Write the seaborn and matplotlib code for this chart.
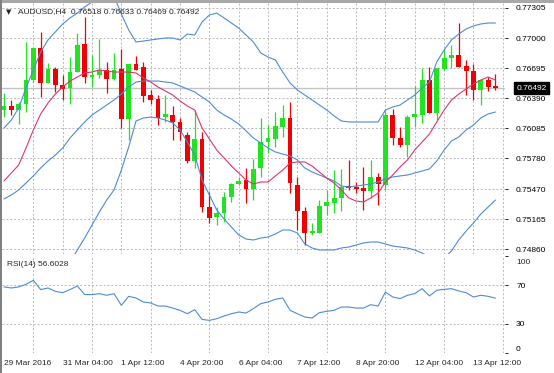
import numpy as np
import pandas as pd
import matplotlib
matplotlib.use("Agg")
import matplotlib.pyplot as plt
from matplotlib.patches import Rectangle
import seaborn as sns

# AUDUSD H4, 68 bars from 29 Mar 20:00
open_ = [0.76271, 0.76312, 0.76271, 0.76332, 0.76575, 0.76900, 0.76545, 0.76687, 0.76525, 0.76494,
         0.76656, 0.76940, 0.76606, 0.76626, 0.76677, 0.76586, 0.76687, 0.76180, 0.76738, 0.76707,
         0.76423, 0.76383, 0.76200, 0.76221, 0.76150, 0.76018, 0.75755, 0.75978, 0.75289, 0.75187,
         0.75228, 0.75390, 0.75522, 0.75562, 0.75471, 0.75684, 0.75947, 0.75978, 0.76099, 0.76190,
         0.75511, 0.75248, 0.75025, 0.75025, 0.75299, 0.75329, 0.75380, 0.75501, 0.75491, 0.75481,
         0.75451, 0.75593, 0.75511, 0.76221, 0.75988, 0.75917, 0.76200, 0.76221, 0.76575, 0.76241,
         0.76687, 0.76798, 0.76829, 0.76717, 0.76667, 0.76474, 0.76575, 0.76518]
high = [0.76444, 0.76373, 0.76352, 0.76960, 0.76900, 0.77062, 0.76748, 0.76707, 0.76626, 0.76808,
        0.77052, 0.77214, 0.76829, 0.76991, 0.76758, 0.76849, 0.76890, 0.76738, 0.76819, 0.76758,
        0.76474, 0.76423, 0.76423, 0.76312, 0.76190, 0.76048, 0.76271, 0.76048, 0.75441, 0.75289,
        0.75441, 0.75532, 0.75593, 0.75684, 0.75775, 0.76190, 0.76119, 0.76251, 0.76322, 0.76352,
        0.75593, 0.75289, 0.75126, 0.75359, 0.75461, 0.75663, 0.75674, 0.75765, 0.75542, 0.75694,
        0.75765, 0.75633, 0.76271, 0.76281, 0.76099, 0.76221, 0.76515, 0.76697, 0.76707, 0.76697,
        0.76890, 0.76930, 0.77153, 0.76778, 0.76738, 0.76586, 0.76606, 0.76633]
low = [0.76200, 0.76221, 0.76130, 0.76251, 0.76555, 0.76403, 0.76545, 0.76454, 0.76373, 0.76332,
       0.76656, 0.76545, 0.76504, 0.76596, 0.76444, 0.76575, 0.76089, 0.75967, 0.76677, 0.76352,
       0.76332, 0.76119, 0.76150, 0.75967, 0.75967, 0.75734, 0.75684, 0.75238, 0.75126, 0.75106,
       0.75137, 0.75339, 0.75511, 0.75329, 0.75359, 0.75593, 0.75836, 0.75896, 0.75998, 0.75430,
       0.75055, 0.74903, 0.75005, 0.75025, 0.75207, 0.75228, 0.75248, 0.75461, 0.75430, 0.75258,
       0.75380, 0.75309, 0.75461, 0.75917, 0.75896, 0.75795, 0.76099, 0.76140, 0.76241, 0.76170,
       0.76677, 0.76697, 0.76707, 0.76423, 0.76373, 0.76322, 0.76464, 0.76469]
close = [0.76312, 0.76271, 0.76332, 0.76575, 0.76900, 0.76545, 0.76687, 0.76525, 0.76484, 0.76656,
         0.76930, 0.76606, 0.76626, 0.76677, 0.76586, 0.76677, 0.76180, 0.76738, 0.76677, 0.76413,
         0.76373, 0.76190, 0.76231, 0.76150, 0.76048, 0.75755, 0.75978, 0.75289, 0.75177, 0.75228,
         0.75390, 0.75522, 0.75552, 0.75471, 0.75674, 0.75947, 0.75988, 0.76109, 0.76190, 0.75532,
         0.75248, 0.75025, 0.75045, 0.75299, 0.75339, 0.75380, 0.75491, 0.75481, 0.75471, 0.75451,
         0.75593, 0.75522, 0.76221, 0.75988, 0.75917, 0.76200, 0.76231, 0.76575, 0.76241, 0.76697,
         0.76798, 0.76829, 0.76707, 0.76667, 0.76474, 0.76575, 0.76504, 0.76492]

# Bollinger bands (blue) and moving average (pink)
bb_upper = [0.76089, 0.76170, 0.76292, 0.76494, 0.76677, 0.76859, 0.76981, 0.77062, 0.77143, 0.77204,
            0.77254, 0.77315, 0.77366, 0.77427, 0.77467, 0.77427, 0.77244, 0.77082, 0.76960, 0.76970,
            0.76981, 0.76991, 0.77001, 0.77001, 0.76981, 0.77041, 0.77031, 0.77163, 0.77234, 0.77254,
            0.77204, 0.77153, 0.77102, 0.77031, 0.76960, 0.76849, 0.76808, 0.76778, 0.76656, 0.76545,
            0.76474, 0.76423, 0.76373, 0.76322, 0.76271, 0.76211, 0.76160, 0.76150, 0.76150, 0.76150,
            0.76150, 0.76150, 0.76271, 0.76302, 0.76322, 0.76373, 0.76423, 0.76494, 0.76555, 0.76758,
            0.76879, 0.76981, 0.77041, 0.77092, 0.77123, 0.77143, 0.77153, 0.77153]
bb_middle = [0.75370, 0.75410, 0.75461, 0.75532, 0.75603, 0.75684, 0.75755, 0.75815, 0.75886, 0.75988,
             0.76069, 0.76150, 0.76221, 0.76271, 0.76322, 0.76373, 0.76433, 0.76504, 0.76555, 0.76565,
             0.76565, 0.76565, 0.76555, 0.76545, 0.76515, 0.76484, 0.76454, 0.76403, 0.76352, 0.76271,
             0.76221, 0.76180, 0.76129, 0.76059, 0.75988, 0.75937, 0.75886, 0.75846, 0.75825, 0.75805,
             0.75765, 0.75684, 0.75643, 0.75613, 0.75582, 0.75552, 0.75501, 0.75491, 0.75501, 0.75511,
             0.75522, 0.75542, 0.75572, 0.75593, 0.75603, 0.75613, 0.75633, 0.75653, 0.75674, 0.75755,
             0.75866, 0.75957, 0.75998, 0.76069, 0.76119, 0.76190, 0.76231, 0.76251]
bb_lower = [0.74650, 0.74650, 0.74630, 0.74569, 0.74528, 0.74508, 0.74528, 0.74569, 0.74630, 0.74731,
            0.74853, 0.74974, 0.75106, 0.75238, 0.75359, 0.75461, 0.75663, 0.75896, 0.76160, 0.76190,
            0.76200, 0.76190, 0.76170, 0.76140, 0.76069, 0.75947, 0.75815, 0.75562, 0.75410, 0.75258,
            0.75167, 0.75086, 0.75005, 0.74964, 0.74954, 0.74974, 0.74985, 0.75015, 0.75055, 0.75055,
            0.75025, 0.74914, 0.74873, 0.74853, 0.74853, 0.74853, 0.74873, 0.74883, 0.74903, 0.74924,
            0.74934, 0.74934, 0.74914, 0.74893, 0.74883, 0.74873, 0.74853, 0.74822, 0.74782, 0.74731,
            0.74772, 0.74843, 0.74954, 0.75045, 0.75126, 0.75217, 0.75288, 0.75359]
ma = [0.75552, 0.75633, 0.75714, 0.75886, 0.76069, 0.76231, 0.76342, 0.76433, 0.76504, 0.76565,
      0.76606, 0.76646, 0.76656, 0.76677, 0.76667, 0.76656, 0.76656, 0.76656, 0.76646, 0.76596,
      0.76555, 0.76504, 0.76464, 0.76423, 0.76363, 0.76312, 0.76271, 0.76089, 0.75978, 0.75866,
      0.75785, 0.75704, 0.75633, 0.75562, 0.75522, 0.75542, 0.75542, 0.75603, 0.75663, 0.75734,
      0.75745, 0.75745, 0.75704, 0.75643, 0.75582, 0.75532, 0.75461, 0.75380, 0.75349, 0.75339,
      0.75380, 0.75430, 0.75542, 0.75613, 0.75694, 0.75765, 0.75866, 0.75947, 0.76028, 0.76150,
      0.76271, 0.76373, 0.76433, 0.76484, 0.76535, 0.76575, 0.76606, 0.76575]

rsi = [68.3, 67.2, 68.3, 71.0, 75.2, 65.5, 67.2, 63.7, 62.3, 65.5,
       69.3, 60.3, 60.3, 61.3, 59.6, 61.3, 49.1, 58.5, 56.8, 52.6,
       51.6, 48.4, 48.4, 46.3, 43.9, 40.4, 44.6, 34.5, 33.5, 35.2,
       38.0, 40.4, 42.2, 41.1, 45.7, 50.9, 52.6, 55.4, 56.8, 43.9,
       40.4, 37.0, 35.9, 41.5, 42.9, 43.9, 47.4, 47.4, 46.3, 46.3,
       49.8, 48.4, 63.0, 57.8, 56.1, 59.6, 61.3, 66.5, 58.9, 64.8,
       65.8, 66.5, 64.1, 62.3, 57.8, 59.6, 58.5, 56.6]

price_ticks = [0.77305, 0.77000, 0.76695, 0.76390, 0.76085, 0.75780, 0.75470, 0.75165, 0.74860]
price_labels = ["0.77305", "0.77000", "0.76695", "0.76390", "0.76085",
                "0.75780", "0.75470", "0.75165", "0.74860"]
date_labels = ["29 Mar 2016", "31 Mar 04:00", "1 Apr 12:00", "4 Apr 20:00", "6 Apr 04:00",
               "7 Apr 12:00", "8 Apr 20:00", "12 Apr 04:00", "13 Apr 12:00"]
rsi_ticks = [100, 70, 30, 0]

BULL = "#22e322"
BEAR = "#f00000"
BAND = "#4d8bd8"
PINK = "#e2336e"
GRID = "#b8b8b8"

df = pd.DataFrame({"open": open_, "high": high, "low": low, "close": close,
                   "upper": bb_upper, "middle": bb_middle, "lower": bb_lower,
                   "ma": ma, "rsi": rsi})
df["bar"] = np.arange(len(df))

sns.set_style("white")
plt.rcParams["font.family"] = ["Liberation Sans", "DejaVu Sans"]
plt.rcParams["font.size"] = 6

W, H = 554, 373
fig = plt.figure(figsize=(W / 100, H / 100), dpi=100)


def fx(px):
    return px / W


def fy(px):
    return 1 - px / H


ax = fig.add_axes([fx(1.5), fy(254), fx(505) - fx(1.5), fy(2.7) - fy(254)])
ax_rsi = fig.add_axes([fx(1.5), fy(353), fx(505) - fx(1.5), fy(256) - fy(353)])

# -------------------------
# main panel
# -------------------------
ax.axhline(close[-1], color="#c4c4c4", lw=1, zorder=1)
colors = np.where(df["close"] >= df["open"], BULL, BEAR)
ax.vlines(df["bar"], df["low"], df["high"], colors=colors, lw=0.9, zorder=2)
body = (df["close"] - df["open"]).abs().clip(lower=0.00008)
ax.bar(df["bar"], body, bottom=df[["open", "close"]].min(axis=1), width=0.66,
       color=colors, linewidth=0, zorder=2)

for col, c in [("upper", BAND), ("middle", BAND), ("lower", BAND), ("ma", PINK)]:
    sns.lineplot(data=df, x="bar", y=col, ax=ax, color=c, linewidth=0.8,
                 estimator=None, zorder=3)

grid_pos = np.arange(4, 69, 4)
for a in (ax, ax_rsi):
    a.set_xlim(-0.34, 68.3)
    a.set_xticks(grid_pos, minor=True)
    a.grid(True, which="minor", axis="x", color=GRID, lw=0.7, ls=(0, (2, 2)))
    a.set_xlabel("")
    a.set_ylabel("")
    for s in a.spines.values():
        s.set_visible(False)
    a.yaxis.tick_right()

ax.set_ylim(0.748122, 0.773586)
ax.set_xticks([])
ax.set_yticks(price_ticks)
ax.set_yticklabels(price_labels)
ax.grid(True, which="major", axis="y", color=GRID, lw=0.7, ls=(0, (2, 2)))
ax.tick_params(axis="y", length=2, width=0.6, pad=6, labelsize=6, colors="black")
ax.tick_params(axis="x", which="both", length=0)

ax.text(1 + 11.5 / 503.5, close[-1], f"{close[-1]:.5f}", transform=ax.get_yaxis_transform(),
        ha="left", va="center", color="white", fontsize=6,
        bbox=dict(boxstyle="square,pad=0.3", fc="black", ec="black"))

# -------------------------
# RSI panel
# -------------------------
sns.lineplot(data=df, x="bar", y="rsi", ax=ax_rsi, color=BAND, linewidth=0.8, estimator=None)
ax_rsi.set_xlabel("")
ax_rsi.set_ylabel("")
ax_rsi.set_ylim(-0.5, 100.5)
for lvl in (70, 30):
    ax_rsi.axhline(lvl, color=GRID, lw=0.7, ls=(0, (2, 2)), zorder=0)
ax_rsi.set_yticks(rsi_ticks)
# the top label sits a little inside the window, as in the terminal
ax_rsi.set_yticklabels([""] + [str(t) for t in rsi_ticks[1:]])
ax_rsi.get_yticklabels()[-1].set_va("bottom")
ax_rsi.tick_params(axis="y", length=2, width=0.6, pad=6, labelsize=6, colors="black")
fig.text(fx(516), fy(262.5), str(rsi_ticks[0]), va="center", ha="left", fontsize=6)
ax_rsi.set_xticks(np.arange(0, 65, 8))
ax_rsi.set_xticklabels(date_labels, ha="left")
ax_rsi.tick_params(axis="x", which="major", length=0, pad=5, labelsize=6)
ax_rsi.tick_params(axis="x", which="minor", length=0)

# titles
fig.text(fx(6), fy(12), "\u25bc", fontsize=5, va="center", family=["DejaVu Sans"])
fig.text(fx(18), fy(12), "AUDUSD,H4  0.76518 0.76633 0.76469 0.76492", va="center", fontsize=6)
fig.text(fx(7), fy(264), "RSI(14) 56.6028", va="center", fontsize=6)

# window frame
fig.add_artist(Rectangle((0, fy(2.7)), 1, 2.7 / H, transform=fig.transFigure,
                         color="#a8a8a8", lw=0))
fig.add_artist(Rectangle((0, 0), 1.5 / W, 1, transform=fig.transFigure,
                         color="#808080", lw=0))

fig.savefig("out.png", dpi=100)
